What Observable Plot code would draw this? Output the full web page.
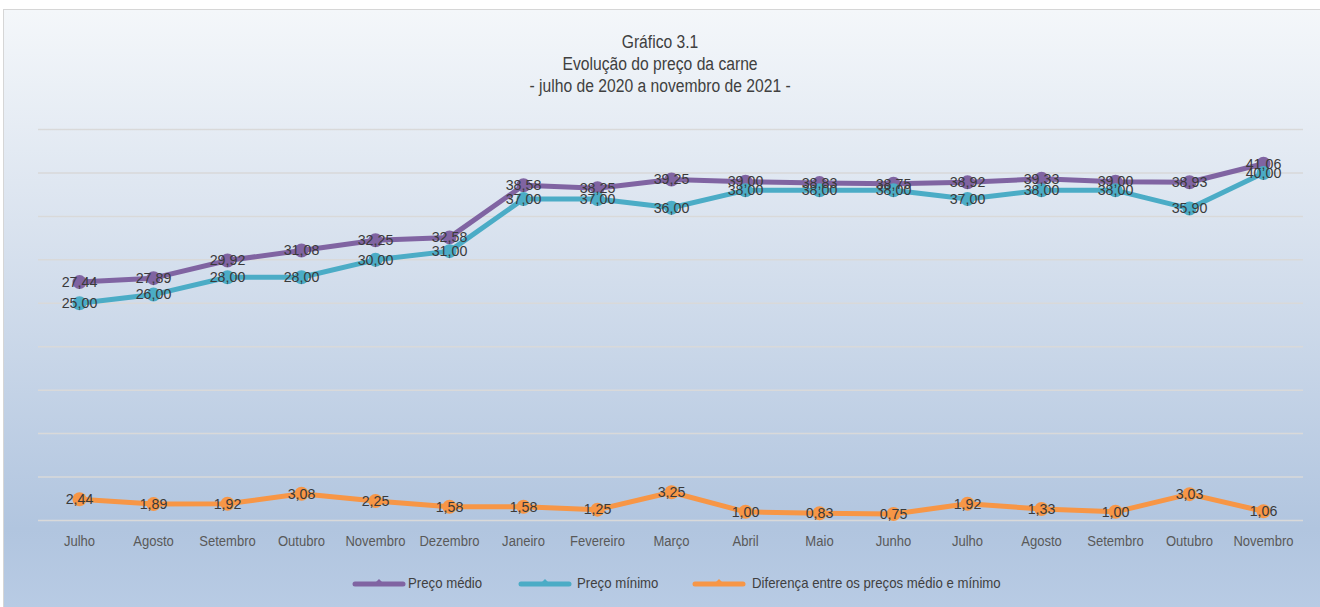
<!DOCTYPE html>
<html>
<head>
<meta charset="utf-8">
<script src="https://cdn.jsdelivr.net/npm/d3@7"></script>
<script src="https://cdn.jsdelivr.net/npm/@observablehq/plot@0.6"></script>
<style>
  html, body { margin: 0; padding: 0; background: #ffffff; }
  #frame {
    position: absolute; left: 3px; top: 9px; width: 1330px; height: 610px;
    border: 1px solid #d6d6d6;
    background: linear-gradient(to bottom, #f4f7fa 0%, #dae3ef 35%, #b1c5df 85%, #b9cce5 100%);
  }
  #wrap { position: absolute; left: 0; top: 0; width: 1320px; height: 607px;
    font-family: "Liberation Sans", Arial, Helvetica, sans-serif; }
  #title {
    position: absolute; left: 0; top: 31px; width: 1320px; text-align: center;
    font-size: 18px; color: #404040; line-height: 22px;
  }
  #title span { display: inline-block; transform: scaleX(0.87); transform-origin: center; white-space: nowrap; }
  #chart { position: absolute; left: 0; top: 110px; }
  #legend { position: absolute; left: 0; top: 573px; width: 1320px; height: 20px; font-size: 15px; color: #404040; }
  .sw { position: absolute; top: 3px; }
  .lt { position: absolute; top: 0; line-height: 20px; transform: scaleX(0.88); transform-origin: left center; white-space: nowrap; }
</style>
</head>
<body>
<div id="frame"></div>
<div id="wrap">
  <div id="title"><span>Gráfico 3.1</span><br><span>Evolução do preço da carne</span><br><span>- julho de 2020 a novembro de 2021 -</span></div>
  <div id="chart"></div>
  <div id="legend"></div>
</div>
<script>
const months = ["Julho","Agosto","Setembro","Outubro","Novembro","Dezembro","Janeiro","Fevereiro","Março","Abril","Maio","Junho","Julho","Agosto","Setembro","Outubro","Novembro"];
const precoMedio = [27.44, 27.89, 29.92, 31.08, 32.25, 32.58, 38.58, 38.25, 39.25, 39.00, 38.83, 38.75, 38.92, 39.33, 39.00, 38.93, 41.06];
const precoMinimo = [25.00, 26.00, 28.00, 28.00, 30.00, 31.00, 37.00, 37.00, 36.00, 38.00, 38.00, 38.00, 37.00, 38.00, 38.00, 35.90, 40.00];
const diferenca = [2.44, 1.89, 1.92, 3.08, 2.25, 1.58, 1.58, 1.25, 3.25, 1.00, 0.83, 0.75, 1.92, 1.33, 1.00, 3.03, 1.06];
const seriesNames = ["Preço médio", "Preço mínimo", "Diferença entre os preços médio e mínimo"];
const seriesColors = ["#8064a2", "#4bacc6", "#f79646"];
const yTicks = [0, 5, 10, 15, 20, 25, 30, 35, 40, 45];

const seriesValues = [precoMedio, precoMinimo, diferenca];
const rows = seriesValues.map((vals, s) => vals.map((v, i) => ({i, v, s: seriesNames[s]})));
const fmt = v => v.toFixed(2).replace(".", ",");
const FONT = "Liberation Sans, Arial, Helvetica, sans-serif";

const marks = [Plot.ruleY(yTicks, {stroke: "#d9d9d9", strokeWidth: 1.5})];
rows.forEach((data, s) => {
  marks.push(Plot.line(data, {x: "i", y: "v", stroke: seriesColors[s], strokeWidth: 5, strokeLinejoin: "round"}));
  marks.push(Plot.dot(data, {x: "i", y: "v", fill: seriesColors[s], r: 7, stroke: "none"}));
});
rows.forEach((data, s) => {
  marks.push(Plot.text(data, {
    x: "i", y: "v", text: d => fmt(d.v), fill: "#3a3a3a",
    fontSize: 15, fontFamily: FONT
  }));
});

const chart = Plot.plot({
  width: 1320,
  height: 450,
  marginLeft: 38,
  marginRight: 17,
  marginTop: 19,
  marginBottom: 40,
  style: {background: "transparent", overflow: "visible"},
  x: {type: "band", domain: d3.range(months.length), padding: 0, axis: null},
  y: {domain: [0, 45], axis: null},
  marks: [
    ...marks,
    Plot.axisX({tickSize: 0, tickPadding: 15, tickFormat: i => months[i], label: null,
      fontSize: 15, fill: "#595959", fontFamily: FONT})
  ]
});
document.getElementById("chart").appendChild(chart);

// condense text horizontally around its anchor
const monthSet = new Set(months);
function squeeze(t, sx) {
  const tr = t.getAttribute("transform");
  if (tr) {
    t.setAttribute("transform", tr + ` scale(${sx},1)`);
  } else {
    const x = +t.getAttribute("x") || 0;
    t.setAttribute("transform", `translate(${x},0) scale(${sx},1) translate(${-x},0)`);
  }
}
chart.querySelectorAll("text").forEach(t => {
  if (monthSet.has(t.textContent)) squeeze(t, 0.87);
  else squeeze(t, 0.95);
});

// legend
const legend = document.getElementById("legend");
const swLeft = [352, 518, 692];
const txLeft = [408, 577, 752];
seriesNames.forEach((name, s) => {
  const sw = document.createElement("div");
  sw.className = "sw";
  sw.style.left = swLeft[s] + "px";
  sw.innerHTML = `<svg width="54" height="14" style="display:block"><line x1="3" x2="51" y1="8" y2="8" stroke="${seriesColors[s]}" stroke-width="5" stroke-linecap="round"/><path d="M22,8 L27,3 L32,8 Z" fill="${seriesColors[s]}"/></svg>`;
  legend.appendChild(sw);
  const tx = document.createElement("div");
  tx.className = "lt";
  tx.style.left = txLeft[s] + "px";
  tx.textContent = name;
  legend.appendChild(tx);
});
</script>
</body>
</html>
